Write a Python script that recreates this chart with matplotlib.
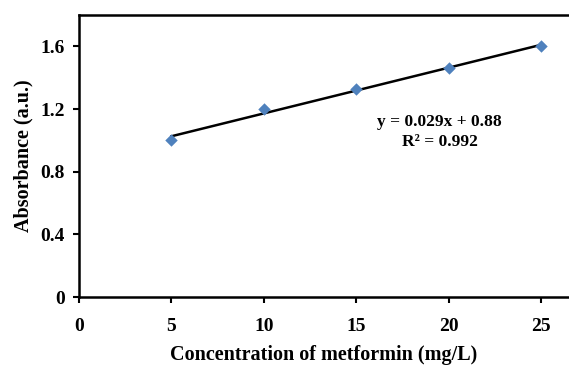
import numpy as np
import matplotlib
matplotlib.use("Agg")
import matplotlib.pyplot as plt

plt.rcParams['font.family'] = ['Liberation Serif', 'DejaVu Serif']
plt.rcParams['font.weight'] = 'bold'

concentration = [5, 10, 15, 20, 25]
absorbance = [1.00, 1.20, 1.33, 1.46, 1.60]
x_ticks = [0, 5, 10, 15, 20, 25]
y_ticks = [0, 0.4, 0.8, 1.2, 1.6]
y_tick_labels = ['0', '0.4', '0.8', '1.2', '1.6']
equation_text = "y = 0.029x + 0.88\nR² = 0.992"

fig = plt.figure(figsize=(5.69, 3.65), dpi=100)
ax = fig.add_axes([79/569, 68/365, 1 - 79/569, 282/365])

slope, intercept = np.polyfit(concentration, absorbance, 1)
xs = np.array([concentration[0], concentration[-1]])
ax.plot(xs, slope * xs + intercept, color='black', lw=1.8, zorder=2)
ax.scatter(concentration, absorbance, marker='D', s=40, color='#4F81BD', zorder=3, linewidths=0)

ax.set_xlim(0, 26.5)
ax.set_ylim(0, 1.8)
ax.set_xticks(x_ticks)
ax.set_yticks(y_ticks)
ax.set_yticklabels(y_tick_labels)
for s in ['left', 'bottom', 'top']:
    ax.spines[s].set_linewidth(1.8)
ax.spines['right'].set_visible(False)
ax.tick_params(axis='both', direction='out', length=4, width=1.5, labelsize=14)
ax.tick_params(axis='x', pad=11)
ax.tick_params(axis='y', pad=6)

ax.set_xlabel('Concentration of metformin (mg/L)', fontsize=14.5, fontweight='bold', labelpad=7.5)
ax.set_ylabel('Absorbance (a.u.)', fontsize=14.5, fontweight='bold', labelpad=5)

ax.text(19.5, 1.055, equation_text, ha='center', va='center', fontsize=12.5,
        fontweight='bold', linespacing=1.3)

fig.savefig('out.png', dpi=100)
